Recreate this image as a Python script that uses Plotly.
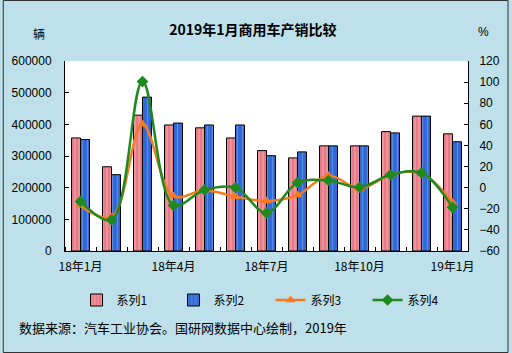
import plotly.graph_objects as go

months = ["18年1月", "18年2月", "18年3月", "18年4月", "18年5月", "18年6月", "18年7月",
          "18年8月", "18年9月", "18年10月", "18年11月", "18年12月", "19年1月"]
tick_labels = ["18年1月", "18年4月", "18年7月", "18年10月", "19年1月"]
s1 = [357000, 266000, 429000, 398000, 389000, 357000, 317000, 294000, 332000, 332000, 377000, 426000, 370000]
s2 = [352000, 241000, 486000, 404000, 398000, 398000, 301000, 313000, 332000, 332000, 373000, 426000, 345000]
s3 = [-17, -28, 60, -8, -2.5, -8.5, -12.6, -7, 11.6, -1, 12.2, 13.5, -14]
s4 = [-13, -30.5, 100.5, -16.7, -2.2, 0, -24, 4.7, 6.9, 0.3, 12.2, 14, -18.6]

W, H = 512, 353
L, R, T, B = 63, 41, 61, 102
pw, ph = W - L - R, H - T - B

x = list(range(len(months)))

fig = go.Figure()
fig.add_trace(go.Bar(
    x=x, y=s1, name="系列1",
    marker=dict(color="#E8788C", line=dict(color="#000000", width=1),
                pattern=dict(shape="|", fgcolor="#F6C9A2", bgcolor="#E8788C", size=4, solidity=0.35)),
))
fig.add_trace(go.Bar(
    x=x, y=s2, name="系列2",
    marker=dict(color="#3168D6", line=dict(color="#000000", width=1),
                pattern=dict(shape="|", fgcolor="#7FB2EE", bgcolor="#3168D6", size=5, solidity=0.25)),
))
fig.add_trace(go.Scatter(
    x=x, y=s3, name="系列3", yaxis="y2", mode="lines+markers",
    line=dict(color="#F77A1E", width=2.5, shape="spline", smoothing=1.0),
    marker=dict(symbol="triangle-up", size=9, color="#F77A1E"),
))
fig.add_trace(go.Scatter(
    x=x, y=s4, name="系列4", yaxis="y2", mode="lines+markers",
    line=dict(color="#1E8A1E", width=2.5, shape="spline", smoothing=1.0),
    marker=dict(symbol="diamond", size=9, color="#1E8A1E"),
))

font = "Liberation Sans, Noto Sans CJK SC, sans-serif"
cjk = "Noto Sans CJK SC, sans-serif"

fig.update_layout(
    width=W, height=H,
    margin=dict(l=L, r=R, t=T, b=B),
    paper_bgcolor="#BEE0EA",
    plot_bgcolor="#FFFFFF",
    barmode="group", bargap=0.42, bargroupgap=0,
    font=dict(family=font, size=12, color="#000000"),
    title=dict(text="<b>2019年1月商用车产销比较</b>", x=0.494, xanchor="center",
               y=1 - 30 / H, yanchor="middle", font=dict(family=cjk, size=14, color="#000000")),
    xaxis=dict(range=[-0.5, 12.5], tickmode="array", tickvals=[0, 3, 6, 9, 12], ticktext=tick_labels,
               ticks="", showline=True, linecolor="#000000", linewidth=1, showgrid=False, zeroline=False,
               tickfont=dict(family=cjk, size=12), ticklabelstandoff=5,
               minor=dict(tickmode="array", tickvals=[i - 0.5 for i in range(14)], ticks="inside",
                          ticklen=4, tickcolor="#000000")),
    yaxis=dict(range=[0, 600000], dtick=100000, ticks="inside", ticklen=4, tickcolor="#000000",
               showline=True, linecolor="#000000", showgrid=False, zeroline=False,
               ticklabelstandoff=10, tickformat="d"),
    yaxis2=dict(range=[-60, 120], dtick=20, overlaying="y", side="right", ticks="inside", ticklen=4,
                tickcolor="#000000", showline=True, linecolor="#000000", showgrid=False, zeroline=False,
                ticklabelstandoff=8),
    legend=dict(orientation="h", x=0.51, xanchor="center", y=(T + ph - 300) / ph, yanchor="middle",
                font=dict(family=cjk, size=12), bgcolor="rgba(0,0,0,0)", entrywidth=52,
                itemwidth=30, tracegroupgap=0),
    showlegend=True,
)

fig.add_annotation(text="辆", xref="paper", yref="paper", x=(37 - L) / pw, y=(T + ph - 33) / ph,
                   showarrow=False, font=dict(family=cjk, size=12), xanchor="center", yanchor="middle")
fig.add_annotation(text="%", xref="paper", yref="paper", x=(487 - L) / pw, y=(T + ph - 32) / ph,
                   showarrow=False, font=dict(family=font, size=12), xanchor="center", yanchor="middle")
fig.add_annotation(text="数据来源：汽车工业协会。国研网数据中心绘制，2019年", xref="paper", yref="paper",
                   x=(14 - L) / pw, y=(T + ph - 327) / ph, showarrow=False,
                   font=dict(family=cjk, size=13), xanchor="left", yanchor="middle")
fig.add_shape(type="rect", xref="paper", yref="paper",
              x0=(0.5 - L) / pw, x1=(W - 0.5 - L) / pw, y0=(T + ph - (H - 0.5)) / ph, y1=(T + ph - 0.5) / ph,
              line=dict(color="#333333", width=1), layer="below")

fig.write_html("out.html")
